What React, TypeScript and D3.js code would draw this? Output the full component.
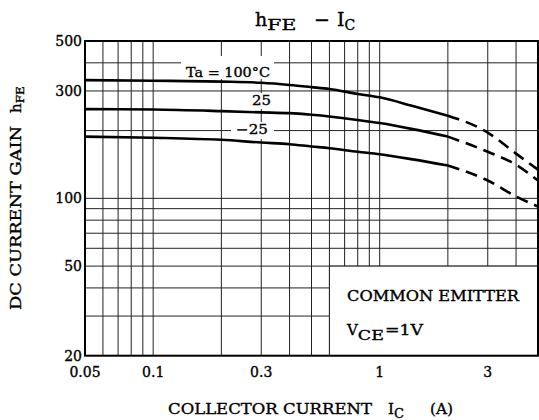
import React, { useEffect, useRef } from 'react'
import * as d3 from 'd3'

// collector current (A) where the curves were read
const icSolid = [0.05, 0.1, 0.2, 0.3, 0.4, 0.5, 0.6, 0.8, 1, 1.4, 2]
const icDashed = [2, 3, 4, 5]

const gain100Solid = [335, 333, 330, 326, 319, 312, 306, 291, 281, 257, 233]
const gain100Dashed = [233, 196, 158, 134]
const gain25Solid = [249, 248, 244, 241, 239, 235, 231, 223, 216, 203, 188]
const gain25Dashed = [188, 161, 141, 120]
const gainM25Solid = [188, 186, 182, 177, 174, 170, 167, 161, 157, 149, 140]
const gainM25Dashed = [140, 120, 102, 92]

const xGrid = [0.06, 0.07, 0.08, 0.09, 0.1, 0.2, 0.3, 0.4, 0.5, 0.6, 0.7, 0.8, 0.9, 1, 2, 3, 4]
const yGrid = [30, 40, 50, 60, 70, 80, 90, 100, 200, 300, 400]
const xTickLabels = [0.05, 0.1, 0.3, 1, 3]
const yTickLabels = [20, 50, 100, 300, 500]

const FONT = '"DejaVu Serif", "Liberation Serif", serif'

const App: React.FC = () => {
    const ref = useRef<SVGSVGElement | null>(null)

    useEffect(() => {
        if (!ref.current) return
        const width = 539
        const height = 420
        const svg = d3.select(ref.current)
        svg.selectAll('*').remove()
        svg.attr('width', width).attr('height', height)

        const x = d3.scaleLog().domain([0.05, 5]).range([85, 538])
        const y = d3.scaleLog().domain([20, 500]).range([355.7, 41])

        // grid
        svg.append('g')
            .selectAll('line')
            .data(xGrid)
            .join('line')
            .attr('x1', d => x(d)).attr('x2', d => x(d))
            .attr('y1', y(500)).attr('y2', y(20))
            .attr('stroke', '#222').attr('stroke-width', 1)
        svg.append('g')
            .selectAll('line')
            .data(yGrid)
            .join('line')
            .attr('x1', x(0.05)).attr('x2', x(5))
            .attr('y1', d => y(d)).attr('y2', d => y(d))
            .attr('stroke', '#222').attr('stroke-width', 1)

        // legend box (hides grid)
        svg.append('rect')
            .attr('x', x(0.6)).attr('y', y(50))
            .attr('width', x(5) - x(0.6)).attr('height', y(20) - y(50))
            .attr('fill', '#fff').attr('stroke', '#222').attr('stroke-width', 1)

        // white backgrounds behind curve labels
        const bg = [
            { x0: 181, x1: 274, y0: 56, y1: 79 },
            { x0: 246, x1: 276, y0: 93, y1: 109 },
            { x0: 231, x1: 274, y0: 122, y1: 139 },
        ]
        svg.append('g')
            .selectAll('rect')
            .data(bg)
            .join('rect')
            .attr('x', d => d.x0).attr('y', d => d.y0)
            .attr('width', d => d.x1 - d.x0).attr('height', d => d.y1 - d.y0)
            .attr('fill', '#fff')

        // border
        svg.append('rect')
            .attr('x', x(0.05)).attr('y', y(500))
            .attr('width', x(5) - x(0.05)).attr('height', y(20) - y(500))
            .attr('fill', 'none').attr('stroke', '#000').attr('stroke-width', 2)

        // curves
        const line = d3.line<[number, number]>()
            .x(d => x(d[0]))
            .y(d => y(d[1]))
            .curve(d3.curveMonotoneX)
        const solids = [gain100Solid, gain25Solid, gainM25Solid]
        const dashes = [gain100Dashed, gain25Dashed, gainM25Dashed]
        solids.forEach(s => {
            svg.append('path')
                .attr('d', line(icSolid.map((c, i) => [c, s[i]] as [number, number])))
                .attr('fill', 'none').attr('stroke', '#000').attr('stroke-width', 2.6)
        })
        dashes.forEach(s => {
            svg.append('path')
                .attr('d', line(icDashed.map((c, i) => [c, s[i]] as [number, number])))
                .attr('fill', 'none').attr('stroke', '#000').attr('stroke-width', 2.6)
                .attr('stroke-dasharray', '12 7')
        })

        const ink = (sel: d3.Selection<SVGTextElement, any, any, any>) =>
            sel.attr('font-family', FONT).attr('fill', '#000')
                .attr('stroke', '#000').attr('stroke-width', 0.35)

        // tick labels
        svg.append('g')
            .selectAll('text')
            .data(xTickLabels)
            .join('text')
            .attr('x', d => x(d)).attr('y', 377)
            .attr('text-anchor', 'middle')
            .attr('font-size', 14)
            .call(ink)
            .text(d => String(d))
        svg.append('g')
            .selectAll('text')
            .data(yTickLabels)
            .join('text')
            .attr('x', 82).attr('y', d => y(d) + 5)
            .attr('text-anchor', 'end')
            .attr('font-size', 14)
            .call(ink)
            .text(d => String(d))

        // curve labels
        const lbl = (tx: number, ty: number, s: string, len: number) =>
            svg.append('text')
                .attr('x', tx).attr('y', ty)
                .attr('font-size', 13)
                .attr('textLength', len).attr('lengthAdjust', 'spacingAndGlyphs')
                .call(ink)
                .text(s)
        lbl(186, 76.5, 'Ta = 100°C', 84)
        lbl(252, 105, '25', 19)
        lbl(236, 134, '−25', 32)

        // title
        const title = svg.append('text')
            .attr('x', 255).attr('y', 26)
            .attr('font-size', 19)
            .call(ink)
        title.append('tspan').text('h')
        title.append('tspan').attr('font-size', 14).attr('dy', 4)
            .attr('textLength', 29).attr('lengthAdjust', 'spacingAndGlyphs').text('FE')
        title.append('tspan').attr('x', 314).attr('dy', -4).text('−')
        title.append('tspan').attr('x', 337).text('I')
        title.append('tspan').attr('font-size', 14).attr('dy', 4).text('C')

        // y-axis title
        const yt = svg.append('text')
            .attr('transform', 'translate(21,310) rotate(-90)')
            .attr('font-size', 15)
            .call(ink)
        yt.append('tspan').attr('textLength', 184).attr('lengthAdjust', 'spacingAndGlyphs').text('DC CURRENT GAIN')
        yt.append('tspan').attr('x', 197).text('h')
        yt.append('tspan').attr('font-size', 11).attr('dy', 3)
            .attr('textLength', 17).attr('lengthAdjust', 'spacingAndGlyphs').text('FE')

        // x-axis title
        const xt = svg.append('text')
            .attr('x', 168).attr('y', 414)
            .attr('font-size', 15)
            .call(ink)
        xt.append('tspan').attr('textLength', 204).attr('lengthAdjust', 'spacingAndGlyphs').text('COLLECTOR CURRENT')
        xt.append('tspan').attr('x', 388).text('I')
        xt.append('tspan').attr('font-size', 13).attr('dy', 4).text('C')
        xt.append('tspan').attr('x', 430).attr('dy', -4)
            .attr('textLength', 23).attr('lengthAdjust', 'spacingAndGlyphs').text('(A)')

        // legend text
        svg.append('text')
            .attr('x', 347).attr('y', 301)
            .attr('font-size', 14)
            .attr('textLength', 172).attr('lengthAdjust', 'spacingAndGlyphs')
            .call(ink)
            .text('COMMON EMITTER')
        const vce = svg.append('text')
            .attr('x', 347).attr('y', 335)
            .attr('font-size', 15)
            .call(ink)
        vce.append('tspan').text('V')
        vce.append('tspan').attr('font-size', 13).attr('dy', 5)
            .attr('textLength', 26).attr('lengthAdjust', 'spacingAndGlyphs').text('CE')
        vce.append('tspan').attr('x', 385).attr('dy', -5)
            .attr('textLength', 38).attr('lengthAdjust', 'spacingAndGlyphs').text('=1V')
    }, [])

    return <svg ref={ref} style={{ position: 'absolute', left: 0, top: 0, background: '#fff' }}></svg>
}

export default App
